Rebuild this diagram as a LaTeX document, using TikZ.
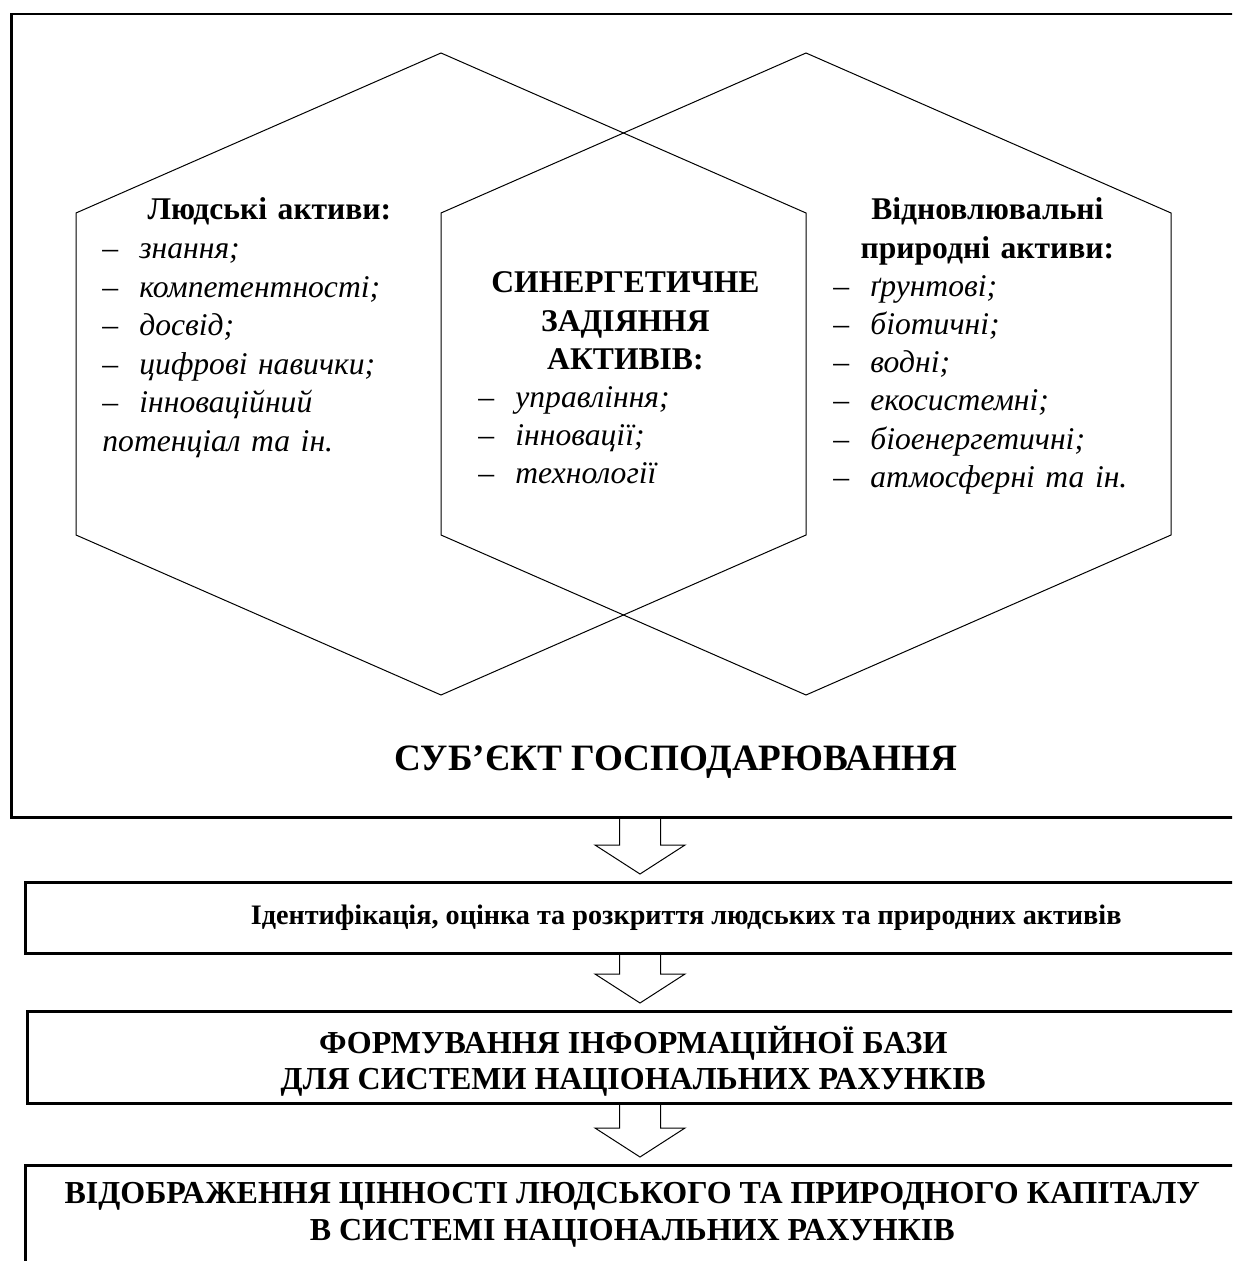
\documentclass[tikz,border=0pt]{standalone}
\usepackage{fontspec}
\setmainfont{Liberation Serif}
\usetikzlibrary{calc}

\tikzset{
  hex/.style={draw, line width=0.5pt},
  frame/.style={draw, line width=1.25pt, rectangle, inner sep=0pt, anchor=north west},
  stage/.style={frame, align=center},
  block/.style={inner sep=0pt, anchor=base west, align=center, font=\fontsize{15.8}{19.1}\selectfont},
  hollow/.style={draw, line width=0.5pt}
}
% list line: dash, then the item in italics
\newcommand\li[1]{\makebox[\linewidth][l]{\makebox[18.5pt][l]{–}\textit{#1}}}
% hollow block arrow from one box down to the next
\newcommand\hollowarrow[2]{%
  \path (#1.south -| axis) coordinate (s) (#2.north -| axis) coordinate (t);
  \draw[hollow] ($(s)+(-20.5,0)$) -- ($(t)+(-20.5,-36)$) -- ($(t)+(-45,-36)$) -- ($(t)+(0,-7)$)
    -- ($(t)+(45,-36)$) -- ($(t)+(20.5,-36)$) -- ($(s)+(20.5,0)$);}

\begin{document}
\begin{tikzpicture}[x=0.5pt, y=-0.5pt]
  \useasboundingbox (0,0) rectangle (1232,1261);
  \clip (0,0) rectangle (1232,1261);
  \coordinate (axis) at (640,0);

  % the firm with its two kinds of assets
  \node[frame, minimum width=700pt, minimum height=401.5pt] (firm) at (10,13) {};
  \foreach \cx in {441,806}
    \draw[hex] (\cx,53) -- ++(365,160) -- ++(0,322) -- ++(-365,160) -- ++(-365,-160) -- ++(0,-322) -- cycle;

  \node[block, text width=167pt, font=\fontsize{15.8}{19.3}\selectfont] (human) at (102,220) {\textbf{Людські активи:}\\
    \li{знання;}\\ \li{компетентності;}\\ \li{досвід;}\\ \li{цифрові навички;}\\ \li{інноваційний}\\
    \makebox[\linewidth][l]{\textit{потенціал та ін.}}};
  \node[block, text width=147pt] (synergy) at (478,293) {\textbf{СИНЕРГЕТИЧНЕ}\\ \textbf{ЗАДІЯННЯ}\\ \textbf{АКТИВІВ:}\\
    \li{управління;}\\ \li{інновації;}\\ \li{технології}};
  \node[block, text width=154pt] (nature) at (833,220) {\textbf{Відновлювальні}\\ \textbf{природні активи:}\\
    \li{ґрунтові;}\\ \li{біотичні;}\\ \li{водні;}\\ \li{екосистемні;}\\ \li{біоенергетичні;}\\ \li{атмосферні та ін.}};

  \node[anchor=base, inner sep=0pt, font=\bfseries\fontsize{18.6}{22}\selectfont] (firmname) at (676,770) {СУБ’ЄКТ ГОСПОДАРЮВАННЯ};

  % stages below
  \node[stage, minimum width=661pt, minimum height=35.5pt, font=\bfseries\fontsize{14.1}{16}\selectfont] (ident) at (24,881)
    {Ідентифікація, оцінка та розкриття людських та природних активів};
  \node[stage, minimum width=606pt, minimum height=46pt, font=\bfseries\fontsize{16}{18}\selectfont] (base) at (26,1010)
    {\rule{0pt}{18pt}ФОРМУВАННЯ ІНФОРМАЦІЙНОЇ БАЗИ\\ ДЛЯ СИСТЕМИ НАЦІОНАЛЬНИХ РАХУНКІВ};
  \node[stage, minimum width=607pt, minimum height=50pt, font=\bfseries\fontsize{16}{18.5}\selectfont] (value) at (24,1164)
    {ВІДОБРАЖЕННЯ ЦІННОСТІ ЛЮДСЬКОГО ТА ПРИРОДНОГО КАПІТАЛУ\\ В СИСТЕМІ НАЦІОНАЛЬНИХ РАХУНКІВ};

  \hollowarrow{firm}{ident}
  \hollowarrow{ident}{base}
  \hollowarrow{base}{value}
\end{tikzpicture}
\end{document}
